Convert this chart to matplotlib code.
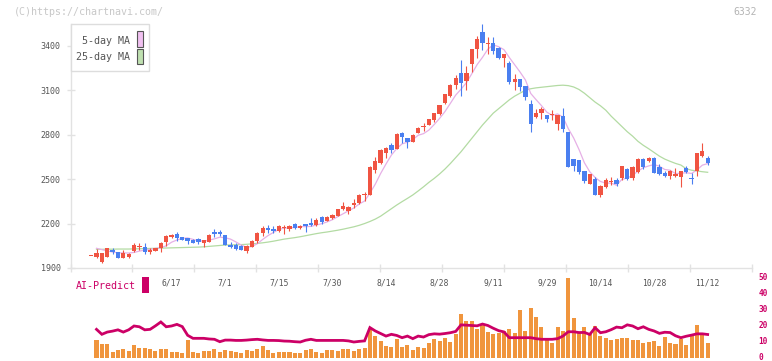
import matplotlib
matplotlib.use("Agg")
import matplotlib.pyplot as plt
import numpy as np
from matplotlib.patches import Rectangle

# ---------------- data ----------------
opens = [1979, 1972, 1943, 1977, 2024, 2006, 1970, 1972, 2017, 2044, 2042,
         2006, 2017, 2037, 2078, 2109, 2129, 2109, 2102, 2091, 2093,
         2071, 2078, 2145, 2141, 2123, 2055, 2055, 2051, 2017, 2044,
         2082, 2138, 2168, 2165, 2152, 2170, 2161, 2197, 2172, 2197,
         2206, 2190, 2244, 2217, 2235, 2253, 2298, 2287, 2325, 2339,
         2393, 2393, 2561, 2606, 2674, 2730, 2705, 2809, 2775, 2753,
         2813, 2849, 2865, 2899, 2939, 3011, 3063, 3135, 3218, 3164,
         3274, 3376, 3495, 3414, 3416, 3385, 3315, 3281, 3157, 3173,
         3128, 3010, 2921, 2946, 2933, 2936, 2872, 2926, 2820, 2634,
         2629, 2555, 2467, 2501, 2393, 2449, 2478, 2494, 2505, 2566,
         2505, 2546, 2633, 2624, 2645, 2584, 2539, 2523, 2523, 2512,
         2573, 2510, 2555, 2658, 2645]
highs = [1979, 2025, 2003, 2035, 2037, 2008, 2024, 1998, 2066, 2066, 2069,
         2033, 2037, 2075, 2123, 2132, 2145, 2112, 2105, 2098, 2100,
         2090, 2130, 2161, 2156, 2125, 2073, 2066, 2055, 2053, 2087,
         2145, 2183, 2190, 2183, 2190, 2190, 2190, 2201, 2190, 2197,
         2235, 2235, 2251, 2249, 2262, 2300, 2343, 2316, 2366, 2402,
         2415, 2586, 2649, 2700, 2714, 2746, 2813, 2820, 2778, 2802,
         2849, 2876, 2906, 2944, 3000, 3076, 3140, 3202, 3304, 3265,
         3378, 3466, 3546, 3461, 3457, 3393, 3344, 3300, 3212, 3178,
         3130, 3034, 2975, 2990, 2935, 2968, 2936, 2977, 2820, 2636,
         2632, 2557, 2536, 2516, 2460, 2505, 2516, 2505, 2590, 2573,
         2586, 2640, 2645, 2651, 2647, 2600, 2555, 2561, 2577, 2557,
         2591, 2539, 2676, 2746, 2658]
lows = [1979, 1970, 1936, 1975, 1992, 1968, 1968, 1968, 2006, 2021, 1994,
        1992, 2015, 2010, 2048, 2100, 2084, 2087, 2060, 2066, 2062,
        2044, 2075, 2111, 2116, 2053, 2037, 2022, 2020, 1999, 2040,
        2066, 2116, 2138, 2138, 2141, 2130, 2150, 2161, 2163, 2145,
        2183, 2183, 2199, 2215, 2231, 2251, 2291, 2262, 2307, 2332,
        2352, 2393, 2543, 2600, 2645, 2674, 2703, 2746, 2712, 2750,
        2810, 2827, 2863, 2888, 2935, 3009, 3056, 3106, 3061, 3101,
        3225, 3319, 3371, 3342, 3342, 3310, 3258, 3142, 3100, 3095,
        3034, 2820, 2912, 2903, 2885, 2896, 2831, 2820, 2581, 2555,
        2534, 2471, 2465, 2390, 2378, 2438, 2460, 2456, 2494, 2492,
        2494, 2540, 2566, 2617, 2543, 2528, 2516, 2501, 2516, 2449,
        2539, 2467, 2523, 2650, 2595]
closes = [1979, 2001, 2001, 2033, 2006, 1970, 2001, 1995, 2055, 2048, 2006,
          2021, 2035, 2071, 2118, 2123, 2100, 2089, 2084, 2070, 2075,
          2089, 2123, 2127, 2127, 2055, 2044, 2028, 2022, 2049, 2082,
          2138, 2172, 2156, 2150, 2186, 2179, 2183, 2168, 2183, 2183,
          2190, 2224, 2213, 2244, 2258, 2298, 2318, 2314, 2336, 2393,
          2397, 2584, 2622, 2696, 2712, 2696, 2804, 2782, 2753, 2798,
          2843, 2858, 2903, 2944, 3000, 3074, 3135, 3180, 3146, 3218,
          3378, 3445, 3421, 3421, 3367, 3315, 3344, 3157, 3175, 3124,
          3052, 2871, 2946, 2973, 2906, 2940, 2933, 2840, 2584, 2590,
          2550, 2489, 2534, 2393, 2455, 2494, 2487, 2467, 2588, 2498,
          2584, 2633, 2584, 2645, 2543, 2532, 2523, 2555, 2534, 2555,
          2546, 2501, 2674, 2692, 2611]

ma5 = [2033, 2024, 2015, 2008, 2002, 2002, 2001, 2005, 2014, 2021,
       2025, 2033, 2036, 2050, 2074, 2089, 2100, 2103, 2093, 2084,
       2081, 2088, 2097, 2108, 2104, 2095, 2076, 2055, 2040, 2045,
       2064, 2093, 2119, 2140, 2160, 2169, 2171, 2173, 2180, 2179,
       2181, 2190, 2199, 2211, 2226, 2247, 2266, 2286, 2305, 2332,
       2352, 2405, 2466, 2538, 2602, 2662, 2706, 2738, 2749, 2767,
       2796, 2807, 2831, 2869, 2910, 2956, 3011, 3067, 3107, 3151,
       3211, 3273, 3322, 3377, 3406, 3394, 3374, 3321, 3272, 3223,
       3170, 3078, 3036, 2996, 2952, 2930, 2940, 2919, 2841, 2778,
       2700, 2611, 2550, 2511, 2484, 2473, 2473, 2459, 2498, 2507,
       2525, 2554, 2577, 2589, 2598, 2587, 2565, 2560, 2537, 2540,
       2543, 2538, 2562, 2594, 2605]
ma25 = [2026, 2026, 2027, 2027, 2028, 2028, 2028, 2029, 2030, 2031,
        2032, 2033, 2034, 2035, 2036, 2037, 2038, 2039, 2040, 2041,
        2043, 2046, 2049, 2052, 2055, 2056, 2057, 2058, 2060, 2063,
        2066, 2070, 2075, 2081, 2088, 2095, 2100, 2105, 2111, 2118,
        2125, 2132, 2138, 2143, 2149, 2155, 2162, 2170, 2178, 2188,
        2200, 2214, 2230, 2250, 2275, 2300, 2325, 2348, 2370, 2393,
        2420, 2448, 2478, 2505, 2535, 2568, 2605, 2645, 2685, 2730,
        2775, 2820, 2865, 2905, 2945, 2975, 3005, 3035, 3060, 3080,
        3100, 3110, 3116, 3120, 3124, 3128, 3132, 3134, 3131, 3122,
        3105, 3080, 3050, 3020, 2995, 2965, 2925, 2890, 2855, 2820,
        2790, 2755, 2728, 2705, 2680, 2655, 2635, 2620, 2606, 2595,
        2570, 2560, 2555, 2550, 2546]

volume = [10.9, 8.6, 8.6, 3.6, 4.7, 5.3, 4.1, 7.8, 5.9, 5.9,
          5.3, 4.1, 5.3, 5.3, 3.4, 3.4, 3.0, 10.9, 3.4, 3.0,
          4.1, 4.1, 5.3, 3.4, 4.7, 4.1, 3.4, 2.8, 4.7, 4.5,
          5.3, 7.4, 4.7, 3.2, 3.8, 3.8, 3.4, 2.8, 3.2, 4.7,
          5.3, 3.8, 3.2, 4.7, 4.7, 4.3, 5.3, 5.3, 4.3, 5.3,
          5.9, 18.9, 13.6, 10.5, 7.4, 6.8, 11.6, 6.8, 8.0, 4.7,
          6.8, 5.9, 9.5, 11.6, 10.3, 12.6, 9.9, 14.6, 27.2, 23.0,
          23.0, 17.8, 20.9, 16.1, 14.6, 15.6, 16.5, 17.8, 15.6, 29.7,
          16.6, 30.9, 25.5, 19.1, 12.0, 9.1, 19.1, 16.6, 49.7, 24.7,
          15.3, 19.1, 15.3, 19.9, 13.6, 12.2, 10.9, 11.6, 12.2, 12.6,
          10.9, 10.9, 9.1, 9.9, 10.3, 7.4, 12.8, 9.5, 8.5, 11.6,
          7.9, 13.6, 20.3, 15.1, 9.1]
ai_predict = [17.8, 14.7, 16.1, 16.7, 17.5, 16.1, 17.5, 19.9, 19.4, 17.5,
              17.8, 20.0, 22.4, 19.4, 19.9, 20.9, 19.5, 14.1, 12.2, 12.2,
              12.2, 11.8, 11.6, 10.1, 11.1, 11.1, 10.9, 10.9, 11.1, 11.4,
              11.6, 11.2, 10.9, 10.9, 10.8, 10.5, 10.4, 10.1, 9.9, 11.0,
              11.6, 10.9, 10.9, 10.9, 10.9, 10.9, 10.9, 10.6, 9.9, 10.3,
              10.6, 18.9, 16.8, 15.2, 13.6, 14.7, 14.0, 12.6, 13.6, 12.0,
              13.6, 13.0, 14.5, 15.0, 14.8, 15.2, 15.7, 16.5, 20.6, 20.4,
              20.2, 20.0, 21.1, 20.2, 18.5, 17.0, 16.2, 12.6, 12.6, 12.6,
              12.6, 12.6, 12.0, 11.6, 11.6, 11.6, 12.0, 13.6, 16.3, 16.3,
              15.8, 15.9, 14.6, 18.8, 15.7, 16.3, 17.6, 19.2, 18.8, 20.6,
              19.9, 18.2, 19.4, 17.8, 16.8, 15.3, 16.0, 15.8, 13.8, 12.6,
              13.5, 14.2, 15.0, 15.0, 14.6]

date_labels = ["6/17", "7/1", "7/15", "7/30", "8/14", "8/28",
               "9/11", "9/29", "10/14", "10/28", "11/12"]
date_label_idx = [15, 25, 35, 45, 55, 65, 75, 85, 95, 105, 115]
price_ticks = [1900, 2200, 2500, 2800, 3100, 3400]
ai_ticks = [0, 10, 20, 30, 40, 50]

# ---------------- styling ----------------
UP = "#f05442"
DOWN = "#4a7ff0"
MA5_C = "#e6b0e6"
MA25_C = "#b3dba3"
VOL_C = "#f0953d"
AI_C = "#cc0066"
AXIS_C = "#e2e2e2"
TXT_C = "#555555"
MONO = "DejaVu Sans Mono"

W, H = 772, 361
fig = plt.figure(figsize=(W / 100, H / 100), dpi=100)
fig.patch.set_facecolor("white")


def px_axes(x0, y0, x1, y1):
    return fig.add_axes([x0 / W, 1 - y1 / H, (x1 - x0) / W, (y1 - y0) / H])


def px_rect(x0, y0, x1, y1, **kw):
    r = Rectangle((x0 / W, 1 - y1 / H), (x1 - x0) / W, (y1 - y0) / H,
                  transform=fig.transFigure, **kw)
    fig.patches.append(r)
    return r


ax2 = px_axes(70.5, 277.7, 752, 357.9)
ax = px_axes(70.5, 24, 752, 268)
ax2.patch.set_visible(False)
ax.patch.set_visible(False)

n = len(opens)
x = np.arange(n)
xv = x[n - len(volume):]
xlo, xhi = -3.85, 123.27

o = np.array(opens, float)
c = np.array(closes, float)
h = np.array(highs, float)
l = np.array(lows, float)
up = c >= o
cols = np.where(up, UP, DOWN)

# moving averages
ax.plot(xv, ma25, color=MA25_C, lw=0.9, zorder=1)
ax.plot(xv, ma5, color=MA5_C, lw=0.9, zorder=1)

# candles
ax.vlines(x, l, h, colors=cols, lw=0.8, zorder=2)
body_lo = np.minimum(o, c)
body_h = np.maximum(np.abs(c - o), 6)
ax.bar(x, body_h, bottom=body_lo, width=0.8, color=cols, linewidth=0, zorder=3)

ax.set_xlim(xlo, xhi)
ax.set_ylim(1900, 3547)
for s in ["top", "right"]:
    ax.spines[s].set_visible(False)
for s in ["left", "bottom"]:
    ax.spines[s].set_color(AXIS_C)
    ax.spines[s].set_linewidth(1.0)

ax.set_yticks(price_ticks)
ax.set_yticklabels([str(t) for t in price_ticks], fontsize=6, family=MONO, color=TXT_C)
ax.tick_params(axis="y", direction="inout", length=6, width=1.0, color=AXIS_C, pad=4)

major = [xlo + k * (xhi - xlo) / 11 for k in range(12)]
ax.set_xticks(major)
ax.set_xticklabels([""] * len(major))
ax.tick_params(axis="x", which="major", direction="inout", length=6, width=1.0, color=AXIS_C)
ax.set_xticks(date_label_idx, minor=True)
ax.set_xticklabels(date_labels, minor=True, fontsize=5.8, family=MONO, color=TXT_C)
ax.tick_params(axis="x", which="minor", length=0, pad=7.5)

# lower panel: volume + AI-Predict
ax2.bar(xv, volume, width=0.75, color=VOL_C, linewidth=0, zorder=1)
ax2.plot(xv, ai_predict, color=AI_C, lw=2.0, zorder=2, solid_joinstyle="miter")
ax2.set_xlim(xlo, xhi)
ax2.set_ylim(0, 50)
for s in ax2.spines.values():
    s.set_visible(False)
ax2.set_xticks([])
ax2.yaxis.tick_right()
ax2.set_yticks(ai_ticks)
ax2.set_yticklabels([str(t) for t in ai_ticks], fontsize=5.6, family=MONO,
                    color=AI_C, fontweight="bold", va="bottom")
for lab in ax2.get_yticklabels():
    lab.set_verticalalignment("center")
ax2.tick_params(axis="y", length=0, pad=4.5)
for lab in ax2.get_yticklabels():
    lab.set_verticalalignment("center")

# header texts
fig.text(14 / W, 1 - 12 / H, "(C)https://chartnavi.com/", fontsize=7.2, family=MONO,
         color="#c8c8c8", va="center", ha="left")
fig.text(757 / W, 1 - 12 / H, "6332", fontsize=7.0, family=MONO,
         color="#b4b4b4", va="center", ha="right")

# legend box
px_rect(70.5, 24, 148.7, 71.3, facecolor="white", edgecolor="#dddddd", lw=1.0, zorder=5)
fig.text(129.5 / W, 1 - 41 / H, "5-day MA", fontsize=7.2, family=MONO, color=TXT_C,
         va="center", ha="right", zorder=6)
fig.text(129.5 / W, 1 - 57 / H, "25-day MA", fontsize=7.2, family=MONO, color=TXT_C,
         va="center", ha="right", zorder=6)
px_rect(137, 31.5, 142.7, 46.5, facecolor="#f0c0f0", edgecolor="#555555", lw=0.8, zorder=6)
px_rect(137, 49, 142.7, 64, facecolor="#bfe0b0", edgecolor="#555555", lw=0.8, zorder=6)

# AI-Predict label
fig.text(75.7 / W, 1 - 286 / H, "AI-Predict", fontsize=7.2, family=MONO, color=AI_C,
         va="center", ha="left")
px_rect(142.3, 276.7, 149, 292.7, facecolor=AI_C, edgecolor="none", zorder=6)

fig.savefig("out.png", dpi=100)
